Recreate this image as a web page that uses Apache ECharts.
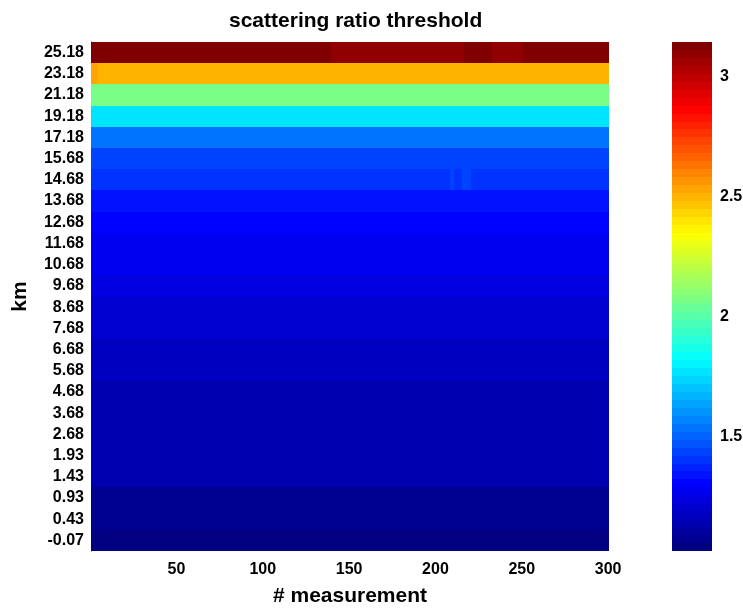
<!DOCTYPE html>
<html>
<head>
<meta charset="utf-8">
<script src="https://cdn.jsdelivr.net/npm/echarts@6/dist/echarts.min.js"></script>
<style>
  html, body { margin: 0; padding: 0; background: #fff; }
  #chart { width: 743px; height: 610px; }
</style>
</head>
<body>
<div id="chart"></div>
<script>
// altitude rows, bottom to top (km)
const heights = ['-0.07', '0.43', '0.93', '1.43', '1.93', '2.68', '3.68', '4.68',
  '5.68', '6.68', '7.68', '8.68', '9.68', '10.68', '11.68', '12.68', '13.68',
  '14.68', '15.68', '17.18', '19.18', '21.18', '23.18', '25.18'];
// threshold for most of each row, same order as heights
const rowValue = [1.045, 1.08, 1.08, 1.14, 1.14, 1.14, 1.14, 1.14,
  1.175, 1.175, 1.21, 1.21, 1.24, 1.275, 1.275, 1.305, 1.34,
  1.405, 1.435, 1.535, 1.77, 2.065, 2.50, 3.13];
// spots that differ from the row value: [height, from #, to #, value]
const patches = [
  ['23.18', 1, 4, 2.53],
  ['25.18', 140, 216, 3.095],
  ['25.18', 233, 250, 3.095],
  ['14.68', 209, 210, 1.43],
  ['14.68', 216, 220, 1.43]
];
const nMeas = 300;
const xTicks = [50, 100, 150, 200, 250, 300];
const cbTicks = [1.5, 2, 2.5, 3];
const cMin = 1.023, cMax = 3.1455;

// octave style jet(64)
const jet = [];
for (let i = 0; i < 64; i++) {
    const x = i / 63;
    const r = x < 3 / 8 ? 0 : x < 5 / 8 ? 4 * x - 1.5 : x < 7 / 8 ? 1 : -4 * x + 4.5;
    const g = x < 1 / 8 ? 0 : x < 3 / 8 ? 4 * x - 0.5 : x < 5 / 8 ? 1 : x < 7 / 8 ? -4 * x + 3.5 : 0;
    const b = x < 1 / 8 ? 4 * x + 0.5 : x < 3 / 8 ? 1 : x < 5 / 8 ? -4 * x + 2.5 : 0;
    const c = v => Math.round(Math.max(0, Math.min(1, v)) * 255);
    jet.push('rgb(' + c(r) + ',' + c(g) + ',' + c(b) + ')');
}
const step = (cMax - cMin) / 64;
const pieces = jet.map((color, i) => i === 63
    ? { gte: cMin + i * step, color: color }
    : { gte: cMin + i * step, lt: cMin + (i + 1) * step, color: color });

// cells: [from #, to #, row, value]
const cells = rowValue.map((v, row) => [1, nMeas, row, v]);
patches.forEach(p => cells.push([p[1], p[2], heights.indexOf(p[0]), p[3]]));
// colour bar levels: [low, high, value]
const levels = jet.map((c, i) => [cMin + i * step, cMin + (i + 1) * step, cMin + (i + 0.5) * step]);

// snap to whole pixels so neighbouring rects share their edge
const px = v => Math.round(Math.round(v * 1000) / 1000);

const font = 'Liberation Sans, Arial, Helvetica, sans-serif';
const chart = echarts.init(document.getElementById('chart'));
chart.setOption({
    animation: false,
    backgroundColor: '#fff',
    title: {
        text: 'scattering ratio threshold',
        left: 224, top: 6,
        textStyle: { fontFamily: font, fontSize: 21, fontWeight: 'bold', color: '#000' }
    },
    grid: [
        { left: 91, top: 42, width: 518, height: 509, outerBoundsMode: 'none' },
        { left: 672, top: 42, width: 40, height: 509, outerBoundsMode: 'none' }
    ],
    xAxis: [{
        type: 'value', gridIndex: 0, min: 0.5, max: nMeas + 0.5,
        name: '# measurement', nameLocation: 'middle', nameGap: 35,
        nameTextStyle: { fontFamily: font, fontSize: 21, fontWeight: 'bold', color: '#000' },
        axisLine: { show: false }, axisTick: { show: false }, splitLine: { show: false },
        axisLabel: { customValues: xTicks, margin: 11, fontFamily: font, fontSize: 16, fontWeight: 'bold', color: '#000' }
    }, {
        type: 'value', gridIndex: 1, min: 0, max: 1, show: false
    }],
    yAxis: [{
        type: 'category', gridIndex: 0, data: heights,
        name: 'km', nameLocation: 'middle', nameGap: 60, nameRotate: 90,
        nameTextStyle: { fontFamily: font, fontSize: 21, fontWeight: 'bold', color: '#000' },
        axisLine: { show: true, lineStyle: { color: '#333', width: 1 } },
        axisTick: { show: false }, splitLine: { show: false },
        axisLabel: { margin: 7, fontFamily: font, fontSize: 16, fontWeight: 'bold', color: '#000' }
    }, {
        type: 'value', gridIndex: 1, position: 'right', min: cMin, max: cMax,
        axisLine: { show: false }, axisTick: { show: false }, splitLine: { show: false },
        axisLabel: { customValues: cbTicks, margin: 8, fontFamily: font, fontSize: 16, fontWeight: 'bold', color: '#000' }
    }],
    visualMap: [
        { type: 'piecewise', show: false, seriesIndex: 0, dimension: 3, pieces: pieces },
        { type: 'piecewise', show: false, seriesIndex: 1, dimension: 2, pieces: pieces }
    ],
    series: [{
        type: 'custom', xAxisIndex: 0, yAxisIndex: 0,
        encode: { x: [0, 1], y: 2 },
        data: cells,
        renderItem: (params, api) => {
            const a = api.coord([api.value(0) - 0.5, api.value(2)]);
            const b = api.coord([api.value(1) + 0.5, api.value(2)]);
            const h = api.size([0, 1])[1];
            const x0 = px(a[0]), x1 = px(b[0]);
            const y0 = px(a[1] - h / 2), y1 = px(a[1] + h / 2);
            return {
                type: 'rect',
                shape: { x: x0, y: y0, width: x1 - x0, height: y1 - y0 },
                style: { fill: api.visual('color') }
            };
        }
    }, {
        type: 'custom', xAxisIndex: 1, yAxisIndex: 1,
        encode: { y: [0, 1] },
        data: levels,
        renderItem: (params, api) => {
            const lo = api.coord([0, api.value(0)]);
            const hi = api.coord([1, api.value(1)]);
            const y0 = px(hi[1]), y1 = px(lo[1]);
            return {
                type: 'rect',
                shape: { x: lo[0], y: y0, width: hi[0] - lo[0], height: y1 - y0 },
                style: { fill: api.visual('color') }
            };
        }
    }]
});
</script>
</body>
</html>
